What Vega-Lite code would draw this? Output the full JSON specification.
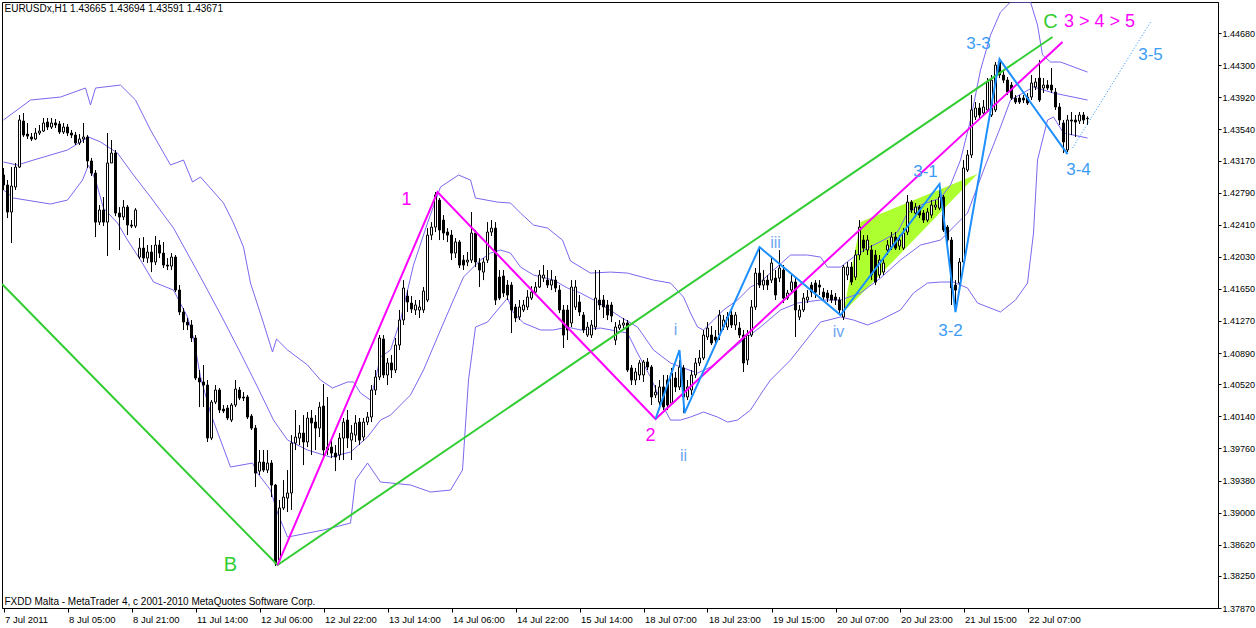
{
"$schema":"https://vega.github.io/schema/vega-lite/v6.json",
"width":1216,"height":606,
"autosize":{"type":"none"},
"padding":{"left":2,"top":2,"right":38,"bottom":20},
"background":"white",
"config":{"view":{"stroke":"black","strokeWidth":1},"font":"Liberation Sans"},
"datasets":{
"candles":[
{"i":0,"o":1.42999,"h":1.43082,"l":1.42821,"c":1.4288},
{"i":1,"o":1.4288,"h":1.42939,"l":1.42489,"c":1.4256},
{"i":2,"o":1.4256,"h":1.43093,"l":1.42193,"c":1.42868},
{"i":3,"o":1.42857,"h":1.43141,"l":1.42821,"c":1.43093},
{"i":4,"o":1.43093,"h":1.43709,"l":1.43082,"c":1.4365},
{"i":5,"o":1.43638,"h":1.43733,"l":1.43449,"c":1.43472},
{"i":6,"o":1.43484,"h":1.43615,"l":1.43425,"c":1.4346},
{"i":7,"o":1.43449,"h":1.43496,"l":1.43401,"c":1.43425},
{"i":8,"o":1.43425,"h":1.43555,"l":1.43413,"c":1.43496},
{"i":9,"o":1.43496,"h":1.43591,"l":1.43472,"c":1.4352},
{"i":10,"o":1.4352,"h":1.43674,"l":1.43508,"c":1.43615},
{"i":11,"o":1.43626,"h":1.43674,"l":1.43532,"c":1.43567},
{"i":12,"o":1.43567,"h":1.43674,"l":1.43544,"c":1.43615},
{"i":13,"o":1.43615,"h":1.43662,"l":1.43555,"c":1.43591},
{"i":14,"o":1.43603,"h":1.43638,"l":1.43484,"c":1.43508},
{"i":15,"o":1.43508,"h":1.43615,"l":1.43484,"c":1.43567},
{"i":16,"o":1.43567,"h":1.43603,"l":1.4346,"c":1.43496},
{"i":17,"o":1.43496,"h":1.43532,"l":1.43437,"c":1.43472},
{"i":18,"o":1.43472,"h":1.43508,"l":1.43354,"c":1.43378},
{"i":19,"o":1.43378,"h":1.43484,"l":1.43354,"c":1.43425},
{"i":20,"o":1.43425,"h":1.43615,"l":1.43378,"c":1.43449},
{"i":21,"o":1.43449,"h":1.43472,"l":1.43082,"c":1.43165},
{"i":22,"o":1.43165,"h":1.432,"l":1.42987,"c":1.43022},
{"i":23,"o":1.43022,"h":1.43058,"l":1.42264,"c":1.42441},
{"i":24,"o":1.42441,"h":1.42643,"l":1.42406,"c":1.42584},
{"i":25,"o":1.42584,"h":1.42738,"l":1.42394,"c":1.42441},
{"i":26,"o":1.42441,"h":1.43496,"l":1.42039,"c":1.43141},
{"i":27,"o":1.43141,"h":1.43413,"l":1.43212,"c":1.43259},
{"i":28,"o":1.43259,"h":1.43295,"l":1.42512,"c":1.42548},
{"i":29,"o":1.42548,"h":1.42619,"l":1.4211,"c":1.42501},
{"i":30,"o":1.42501,"h":1.42702,"l":1.42465,"c":1.42619},
{"i":31,"o":1.42619,"h":1.42643,"l":1.42287,"c":1.42406},
{"i":32,"o":1.42406,"h":1.42465,"l":1.4237,"c":1.42394},
{"i":33,"o":1.42394,"h":1.42607,"l":1.4237,"c":1.42584},
{"i":34,"o":1.42027,"h":1.42252,"l":1.42003,"c":1.42133},
{"i":35,"o":1.42133,"h":1.42264,"l":1.41968,"c":1.42015},
{"i":36,"o":1.42015,"h":1.42169,"l":1.41956,"c":1.42086},
{"i":37,"o":1.42086,"h":1.42169,"l":1.41849,"c":1.41968},
{"i":38,"o":1.41968,"h":1.42276,"l":1.41932,"c":1.42169},
{"i":39,"o":1.42169,"h":1.42228,"l":1.42015,"c":1.42074},
{"i":40,"o":1.42074,"h":1.42205,"l":1.41897,"c":1.41932},
{"i":41,"o":1.41932,"h":1.42015,"l":1.41873,"c":1.4192},
{"i":42,"o":1.4192,"h":1.42074,"l":1.41873,"c":1.42027},
{"i":43,"o":1.42027,"h":1.42051,"l":1.41612,"c":1.41636},
{"i":44,"o":1.41636,"h":1.41695,"l":1.4134,"c":1.41376},
{"i":45,"o":1.41376,"h":1.41423,"l":1.41163,"c":1.41257},
{"i":46,"o":1.41257,"h":1.41305,"l":1.41163,"c":1.41222},
{"i":47,"o":1.41222,"h":1.41281,"l":1.41021,"c":1.41068},
{"i":48,"o":1.41068,"h":1.41103,"l":1.4057,"c":1.40594},
{"i":49,"o":1.40594,"h":1.40689,"l":1.4025,"c":1.40547},
{"i":50,"o":1.40547,"h":1.40748,"l":1.4025,"c":1.40511},
{"i":51,"o":1.40511,"h":1.4057,"l":1.39836,"c":1.39883},
{"i":52,"o":1.39883,"h":1.40333,"l":1.39859,"c":1.40309},
{"i":53,"o":1.40309,"h":1.40511,"l":1.40286,"c":1.40452},
{"i":54,"o":1.40452,"h":1.40476,"l":1.40179,"c":1.40215},
{"i":55,"o":1.40226,"h":1.40274,"l":1.40179,"c":1.40203},
{"i":56,"o":1.40238,"h":1.40274,"l":1.40096,"c":1.4012},
{"i":57,"o":1.40096,"h":1.40297,"l":1.40072,"c":1.40274},
{"i":58,"o":1.40274,"h":1.4057,"l":1.4025,"c":1.40464},
{"i":59,"o":1.40452,"h":1.40488,"l":1.40333,"c":1.40357},
{"i":60,"o":1.40369,"h":1.40428,"l":1.40321,"c":1.40357},
{"i":61,"o":1.40369,"h":1.40393,"l":1.40108,"c":1.40132},
{"i":62,"o":1.40143,"h":1.40167,"l":1.39978,"c":1.40001},
{"i":63,"o":1.40001,"h":1.40037,"l":1.39303,"c":1.39468},
{"i":64,"o":1.39492,"h":1.39741,"l":1.39445,"c":1.39599},
{"i":65,"o":1.39599,"h":1.39741,"l":1.3948,"c":1.39504},
{"i":66,"o":1.39504,"h":1.39741,"l":1.39468,"c":1.39587},
{"i":67,"o":1.39587,"h":1.39622,"l":1.39184,"c":1.39326},
{"i":68,"o":1.39326,"h":1.39338,"l":1.38367,"c":1.38403},
{"i":69,"o":1.38438,"h":1.39149,"l":1.38415,"c":1.39054},
{"i":70,"o":1.39054,"h":1.39385,"l":1.39031,"c":1.39184},
{"i":71,"o":1.39172,"h":1.39504,"l":1.39007,"c":1.39232},
{"i":72,"o":1.39232,"h":1.39918,"l":1.39031,"c":1.39824},
{"i":73,"o":1.39824,"h":1.40215,"l":1.39741,"c":1.39895},
{"i":74,"o":1.39883,"h":1.40037,"l":1.398,"c":1.39942},
{"i":75,"o":1.39942,"h":1.40155,"l":1.39563,"c":1.39836},
{"i":76,"o":1.39836,"h":1.40191,"l":1.39776,"c":1.4012},
{"i":77,"o":1.4012,"h":1.40215,"l":1.39682,"c":1.40061},
{"i":78,"o":1.40072,"h":1.40155,"l":1.39741,"c":1.40001},
{"i":79,"o":1.40001,"h":1.40309,"l":1.39895,"c":1.4025},
{"i":80,"o":1.40262,"h":1.40523,"l":1.39646,"c":1.39741},
{"i":81,"o":1.39741,"h":1.40369,"l":1.39682,"c":1.39776},
{"i":82,"o":1.39776,"h":1.39859,"l":1.39646,"c":1.39705},
{"i":83,"o":1.39705,"h":1.398,"l":1.39492,"c":1.39658},
{"i":84,"o":1.39682,"h":1.39942,"l":1.39622,"c":1.39883},
{"i":85,"o":1.39883,"h":1.4012,"l":1.39622,"c":1.40072},
{"i":86,"o":1.40096,"h":1.40215,"l":1.39764,"c":1.39883},
{"i":87,"o":1.39859,"h":1.40037,"l":1.39622,"c":1.39942},
{"i":88,"o":1.39918,"h":1.40155,"l":1.39836,"c":1.40061},
{"i":89,"o":1.40072,"h":1.4012,"l":1.398,"c":1.39859},
{"i":90,"o":1.39895,"h":1.4012,"l":1.39847,"c":1.40072},
{"i":91,"o":1.40072,"h":1.40191,"l":1.40037,"c":1.40132},
{"i":92,"o":1.40132,"h":1.40511,"l":1.40072,"c":1.40452},
{"i":93,"o":1.40452,"h":1.40689,"l":1.40393,"c":1.40606},
{"i":94,"o":1.40606,"h":1.41103,"l":1.4057,"c":1.41068},
{"i":95,"o":1.41056,"h":1.41103,"l":1.40594,"c":1.4063},
{"i":96,"o":1.4063,"h":1.40831,"l":1.40511,"c":1.40772},
{"i":97,"o":1.40772,"h":1.40867,"l":1.40594,"c":1.40689},
{"i":98,"o":1.40689,"h":1.41068,"l":1.40653,"c":1.40985},
{"i":99,"o":1.40985,"h":1.414,"l":1.40926,"c":1.41281},
{"i":100,"o":1.41281,"h":1.41754,"l":1.41222,"c":1.4166},
{"i":101,"o":1.41565,"h":1.41636,"l":1.41376,"c":1.41494},
{"i":102,"o":1.41482,"h":1.41565,"l":1.41364,"c":1.41411},
{"i":103,"o":1.414,"h":1.41518,"l":1.4134,"c":1.41459},
{"i":104,"o":1.414,"h":1.41518,"l":1.41305,"c":1.41435},
{"i":105,"o":1.414,"h":1.41672,"l":1.41364,"c":1.41624},
{"i":106,"o":1.41518,"h":1.4237,"l":1.41494,"c":1.42287},
{"i":107,"o":1.42287,"h":1.42441,"l":1.42228,"c":1.42382},
{"i":108,"o":1.42382,"h":1.42797,"l":1.42323,"c":1.42762},
{"i":109,"o":1.42702,"h":1.42726,"l":1.42228,"c":1.42347},
{"i":110,"o":1.42465,"h":1.42524,"l":1.42228,"c":1.42311},
{"i":111,"o":1.42323,"h":1.4237,"l":1.42205,"c":1.42287},
{"i":112,"o":1.42287,"h":1.42347,"l":1.41991,"c":1.42074},
{"i":113,"o":1.42074,"h":1.42252,"l":1.42015,"c":1.42205},
{"i":114,"o":1.42205,"h":1.42228,"l":1.41897,"c":1.41932},
{"i":115,"o":1.41991,"h":1.42051,"l":1.41873,"c":1.41932},
{"i":116,"o":1.41968,"h":1.42086,"l":1.4192,"c":1.41991},
{"i":117,"o":1.41991,"h":1.4256,"l":1.41956,"c":1.42311},
{"i":118,"o":1.42311,"h":1.42347,"l":1.41908,"c":1.41968},
{"i":119,"o":1.41956,"h":1.42015,"l":1.41672,"c":1.41873},
{"i":120,"o":1.41849,"h":1.42015,"l":1.41754,"c":1.41968},
{"i":121,"o":1.41991,"h":1.42441,"l":1.41956,"c":1.42323},
{"i":122,"o":1.42323,"h":1.42465,"l":1.42276,"c":1.4237},
{"i":123,"o":1.4237,"h":1.42441,"l":1.41459,"c":1.41518},
{"i":124,"o":1.4179,"h":1.41873,"l":1.41518,"c":1.41541},
{"i":125,"o":1.41802,"h":1.41873,"l":1.41553,"c":1.41601},
{"i":126,"o":1.41695,"h":1.41754,"l":1.41518,"c":1.41577},
{"i":127,"o":1.41695,"h":1.41731,"l":1.41127,"c":1.414},
{"i":128,"o":1.41435,"h":1.41471,"l":1.41257,"c":1.41305},
{"i":129,"o":1.41317,"h":1.41518,"l":1.41281,"c":1.41435},
{"i":130,"o":1.414,"h":1.41518,"l":1.41376,"c":1.41459},
{"i":131,"o":1.41435,"h":1.41636,"l":1.414,"c":1.41553},
{"i":132,"o":1.41541,"h":1.41683,"l":1.41518,"c":1.41612},
{"i":133,"o":1.41612,"h":1.41731,"l":1.41589,"c":1.41672},
{"i":134,"o":1.41672,"h":1.41873,"l":1.4166,"c":1.41814},
{"i":135,"o":1.41778,"h":1.41932,"l":1.41731,"c":1.41814},
{"i":136,"o":1.41754,"h":1.41873,"l":1.4166,"c":1.41695},
{"i":137,"o":1.41695,"h":1.41873,"l":1.41636,"c":1.41754},
{"i":138,"o":1.41754,"h":1.41802,"l":1.41612,"c":1.4166},
{"i":139,"o":1.41636,"h":1.41695,"l":1.41364,"c":1.414},
{"i":140,"o":1.414,"h":1.41459,"l":1.40949,"c":1.41103},
{"i":141,"o":1.414,"h":1.41459,"l":1.41044,"c":1.41163},
{"i":142,"o":1.41246,"h":1.41754,"l":1.41198,"c":1.41672},
{"i":143,"o":1.41435,"h":1.41754,"l":1.414,"c":1.41672},
{"i":144,"o":1.41494,"h":1.41577,"l":1.41328,"c":1.41376},
{"i":145,"o":1.4134,"h":1.41376,"l":1.41127,"c":1.41163},
{"i":146,"o":1.41103,"h":1.41257,"l":1.4108,"c":1.41198},
{"i":147,"o":1.41103,"h":1.41281,"l":1.41068,"c":1.41222},
{"i":148,"o":1.41198,"h":1.41873,"l":1.41163,"c":1.41541},
{"i":149,"o":1.41518,"h":1.41873,"l":1.414,"c":1.41459},
{"i":150,"o":1.41518,"h":1.41577,"l":1.41305,"c":1.41435},
{"i":151,"o":1.41459,"h":1.41518,"l":1.41281,"c":1.4134},
{"i":152,"o":1.41459,"h":1.41494,"l":1.41257,"c":1.41328},
{"i":153,"o":1.41044,"h":1.41257,"l":1.40985,"c":1.41198},
{"i":154,"o":1.41186,"h":1.41281,"l":1.41163,"c":1.41222},
{"i":155,"o":1.41222,"h":1.41305,"l":1.41163,"c":1.41246},
{"i":156,"o":1.41246,"h":1.41281,"l":1.40665,"c":1.40689},
{"i":157,"o":1.40713,"h":1.40748,"l":1.40511,"c":1.4057},
{"i":158,"o":1.4057,"h":1.40713,"l":1.40511,"c":1.40665},
{"i":159,"o":1.4063,"h":1.40807,"l":1.4057,"c":1.40772},
{"i":160,"o":1.4063,"h":1.40807,"l":1.40547,"c":1.40784},
{"i":161,"o":1.40784,"h":1.40831,"l":1.40689,"c":1.40724},
{"i":162,"o":1.40724,"h":1.40748,"l":1.40274,"c":1.40369},
{"i":163,"o":1.40393,"h":1.40511,"l":1.40357,"c":1.40428},
{"i":164,"o":1.40309,"h":1.4057,"l":1.40274,"c":1.40488},
{"i":165,"o":1.40488,"h":1.4063,"l":1.40215,"c":1.4025},
{"i":166,"o":1.4057,"h":1.4063,"l":1.40215,"c":1.40274},
{"i":167,"o":1.40297,"h":1.40713,"l":1.40274,"c":1.40653},
{"i":168,"o":1.40594,"h":1.40665,"l":1.40428,"c":1.40488},
{"i":169,"o":1.40488,"h":1.40807,"l":1.40452,"c":1.40724},
{"i":170,"o":1.40713,"h":1.40748,"l":1.40179,"c":1.40369},
{"i":171,"o":1.40369,"h":1.4057,"l":1.40333,"c":1.40488},
{"i":172,"o":1.40452,"h":1.40689,"l":1.40393,"c":1.4063},
{"i":173,"o":1.4063,"h":1.40831,"l":1.40594,"c":1.40772},
{"i":174,"o":1.40772,"h":1.40926,"l":1.40736,"c":1.40831},
{"i":175,"o":1.40831,"h":1.41163,"l":1.40807,"c":1.41103},
{"i":176,"o":1.4108,"h":1.41257,"l":1.41044,"c":1.41186},
{"i":177,"o":1.41103,"h":1.4121,"l":1.40985,"c":1.41009},
{"i":178,"o":1.4108,"h":1.41163,"l":1.40985,"c":1.41044},
{"i":179,"o":1.41103,"h":1.414,"l":1.41044,"c":1.4134},
{"i":180,"o":1.41198,"h":1.4134,"l":1.41163,"c":1.41281},
{"i":181,"o":1.41198,"h":1.41376,"l":1.41163,"c":1.41317},
{"i":182,"o":1.4134,"h":1.414,"l":1.41186,"c":1.41222},
{"i":183,"o":1.41222,"h":1.41376,"l":1.41163,"c":1.4134},
{"i":184,"o":1.41186,"h":1.41257,"l":1.41068,"c":1.41103},
{"i":185,"o":1.41103,"h":1.41163,"l":1.40665,"c":1.40772},
{"i":186,"o":1.40807,"h":1.41163,"l":1.40748,"c":1.41103},
{"i":187,"o":1.41103,"h":1.41518,"l":1.4108,"c":1.41435},
{"i":188,"o":1.41435,"h":1.41897,"l":1.414,"c":1.41837},
{"i":189,"o":1.41837,"h":1.42145,"l":1.4166,"c":1.41695},
{"i":190,"o":1.41695,"h":1.41873,"l":1.41636,"c":1.41754},
{"i":191,"o":1.41754,"h":1.41814,"l":1.41636,"c":1.41695},
{"i":192,"o":1.41754,"h":1.42015,"l":1.41719,"c":1.41956},
{"i":193,"o":1.41778,"h":1.41873,"l":1.41518,"c":1.41577},
{"i":194,"o":1.41778,"h":1.4211,"l":1.41731,"c":1.41897},
{"i":195,"o":1.41873,"h":1.41932,"l":1.41482,"c":1.41541},
{"i":196,"o":1.41541,"h":1.41636,"l":1.41518,"c":1.41601},
{"i":197,"o":1.41636,"h":1.41814,"l":1.41601,"c":1.41731},
{"i":198,"o":1.41731,"h":1.41778,"l":1.4108,"c":1.414},
{"i":199,"o":1.41317,"h":1.41459,"l":1.41281,"c":1.414},
{"i":200,"o":1.414,"h":1.41601,"l":1.41376,"c":1.41541},
{"i":201,"o":1.41518,"h":1.41636,"l":1.41482,"c":1.41553},
{"i":202,"o":1.41695,"h":1.41731,"l":1.41553,"c":1.41612},
{"i":203,"o":1.41719,"h":1.41754,"l":1.41541,"c":1.41612},
{"i":204,"o":1.41695,"h":1.41754,"l":1.41577,"c":1.41672},
{"i":205,"o":1.41612,"h":1.4166,"l":1.41518,"c":1.41553},
{"i":206,"o":1.41601,"h":1.41636,"l":1.41494,"c":1.41541},
{"i":207,"o":1.41577,"h":1.41636,"l":1.41482,"c":1.41518},
{"i":208,"o":1.41553,"h":1.41601,"l":1.41459,"c":1.41518},
{"i":209,"o":1.41518,"h":1.41553,"l":1.4134,"c":1.414},
{"i":210,"o":1.41317,"h":1.41932,"l":1.41281,"c":1.41908},
{"i":211,"o":1.41814,"h":1.41968,"l":1.41754,"c":1.41908},
{"i":212,"o":1.41908,"h":1.41968,"l":1.41695,"c":1.41731},
{"i":213,"o":1.4179,"h":1.4211,"l":1.41754,"c":1.42051},
{"i":214,"o":1.42051,"h":1.42465,"l":1.41991,"c":1.42382},
{"i":215,"o":1.42228,"h":1.42287,"l":1.42086,"c":1.42133},
{"i":216,"o":1.4211,"h":1.42287,"l":1.42051,"c":1.42228},
{"i":217,"o":1.4211,"h":1.42169,"l":1.41754,"c":1.41814},
{"i":218,"o":1.42051,"h":1.4211,"l":1.41695,"c":1.41731},
{"i":219,"o":1.41814,"h":1.42051,"l":1.41778,"c":1.41991},
{"i":220,"o":1.41849,"h":1.42015,"l":1.41814,"c":1.41956},
{"i":221,"o":1.4211,"h":1.42228,"l":1.42051,"c":1.42169},
{"i":222,"o":1.42145,"h":1.42323,"l":1.4211,"c":1.42264},
{"i":223,"o":1.42264,"h":1.42323,"l":1.4211,"c":1.42133},
{"i":224,"o":1.42157,"h":1.42287,"l":1.4211,"c":1.42228},
{"i":225,"o":1.42133,"h":1.4237,"l":1.4211,"c":1.42311},
{"i":226,"o":1.42323,"h":1.42762,"l":1.42287,"c":1.42678},
{"i":227,"o":1.42678,"h":1.42702,"l":1.42548,"c":1.42584},
{"i":228,"o":1.42548,"h":1.42666,"l":1.42501,"c":1.42619},
{"i":229,"o":1.42619,"h":1.42643,"l":1.42489,"c":1.42524},
{"i":230,"o":1.42548,"h":1.42584,"l":1.4243,"c":1.42465},
{"i":231,"o":1.42465,"h":1.42607,"l":1.42441,"c":1.4256},
{"i":232,"o":1.42524,"h":1.42702,"l":1.42489,"c":1.42643},
{"i":233,"o":1.42619,"h":1.42702,"l":1.42584,"c":1.42643},
{"i":234,"o":1.42607,"h":1.42821,"l":1.42584,"c":1.42738},
{"i":235,"o":1.42738,"h":1.42762,"l":1.42323,"c":1.42347},
{"i":236,"o":1.42382,"h":1.42406,"l":1.42169,"c":1.42228},
{"i":237,"o":1.42228,"h":1.42264,"l":1.41459,"c":1.4166},
{"i":238,"o":1.41695,"h":1.41754,"l":1.41376,"c":1.41636},
{"i":239,"o":1.41719,"h":1.42015,"l":1.41636,"c":1.41968},
{"i":240,"o":1.41968,"h":1.43176,"l":1.41932,"c":1.43082},
{"i":241,"o":1.43058,"h":1.43295,"l":1.43034,"c":1.43236},
{"i":242,"o":1.43236,"h":1.43946,"l":1.432,"c":1.43769},
{"i":243,"o":1.43686,"h":1.43863,"l":1.4365,"c":1.43792},
{"i":244,"o":1.43792,"h":1.43851,"l":1.43674,"c":1.43709},
{"i":245,"o":1.43733,"h":1.43887,"l":1.43709,"c":1.43804},
{"i":246,"o":1.43769,"h":1.44147,"l":1.43745,"c":1.441},
{"i":247,"o":1.43709,"h":1.44183,"l":1.43686,"c":1.44123},
{"i":248,"o":1.43769,"h":1.44337,"l":1.43745,"c":1.44301},
{"i":249,"o":1.44337,"h":1.44384,"l":1.44147,"c":1.44183},
{"i":250,"o":1.44183,"h":1.44242,"l":1.44088,"c":1.44123},
{"i":251,"o":1.44123,"h":1.44159,"l":1.43946,"c":1.43981},
{"i":252,"o":1.44064,"h":1.441,"l":1.43887,"c":1.4391},
{"i":253,"o":1.4391,"h":1.43946,"l":1.4384,"c":1.43863},
{"i":254,"o":1.4391,"h":1.43946,"l":1.4384,"c":1.43863},
{"i":255,"o":1.4391,"h":1.43946,"l":1.43851,"c":1.43887},
{"i":256,"o":1.43922,"h":1.4397,"l":1.43828,"c":1.43851},
{"i":257,"o":1.43922,"h":1.44183,"l":1.43887,"c":1.44088},
{"i":258,"o":1.44041,"h":1.44147,"l":1.44005,"c":1.441},
{"i":259,"o":1.44147,"h":1.4436,"l":1.43863,"c":1.43887},
{"i":260,"o":1.44029,"h":1.44147,"l":1.4397,"c":1.44064},
{"i":261,"o":1.44064,"h":1.44123,"l":1.44005,"c":1.44029},
{"i":262,"o":1.44064,"h":1.44266,"l":1.4397,"c":1.44005},
{"i":263,"o":1.43981,"h":1.44029,"l":1.43769,"c":1.43804},
{"i":264,"o":1.43804,"h":1.43851,"l":1.43591,"c":1.4365},
{"i":265,"o":1.43615,"h":1.4365,"l":1.43259,"c":1.4339},
{"i":266,"o":1.43295,"h":1.43709,"l":1.43271,"c":1.4365},
{"i":267,"o":1.4365,"h":1.43745,"l":1.43472,"c":1.43638},
{"i":268,"o":1.4365,"h":1.43709,"l":1.43449,"c":1.43626},
{"i":269,"o":1.43638,"h":1.43745,"l":1.43603,"c":1.43709},
{"i":270,"o":1.43709,"h":1.43745,"l":1.43603,"c":1.4365},
{"i":271,"o":1.43665,"h":1.43694,"l":1.43591,"c":1.43671}
],
"bands":[
{"b":"u","i":0,"p":1.4365},{"b":"u","i":6.75,"p":1.43887},{"b":"u","i":14.25,"p":1.43922},{"b":"u","i":20.5,"p":1.44029},{"b":"u","i":21.75,"p":1.43828},{"b":"u","i":23,"p":1.44029},{"b":"u","i":29.25,"p":1.44064},{"b":"u","i":33,"p":1.43887},{"b":"u","i":36.75,"p":1.43532},{"b":"u","i":41.75,"p":1.43117},{"b":"u","i":45,"p":1.43176},{"b":"u","i":47.25,"p":1.42916},{"b":"u","i":49.25,"p":1.42975},{"b":"u","i":55,"p":1.42667},{"b":"u","i":57.5,"p":1.4243},{"b":"u","i":60,"p":1.42145},{"b":"u","i":61.75,"p":1.41719},{"b":"u","i":64.75,"p":1.41281},{"b":"u","i":67.25,"p":1.40902},{"b":"u","i":68.25,"p":1.41056},{"b":"u","i":71,"p":1.40926},{"b":"u","i":76,"p":1.40748},{"b":"u","i":79.25,"p":1.4057},{"b":"u","i":82.25,"p":1.40476},{"b":"u","i":86,"p":1.40547},{"b":"u","i":87.5,"p":1.40547},{"b":"u","i":89.25,"p":1.40416},{"b":"u","i":91.75,"p":1.40333},{"b":"u","i":94.25,"p":1.40843},{"b":"u","i":96.75,"p":1.40926},{"b":"u","i":99.25,"p":1.41281},{"b":"u","i":102.5,"p":1.41932},{"b":"u","i":106,"p":1.4243},{"b":"u","i":109.25,"p":1.42857},{"b":"u","i":113.75,"p":1.42999},{"b":"u","i":116.75,"p":1.42939},{"b":"u","i":118,"p":1.42726},{"b":"u","i":123.5,"p":1.42678},{"b":"u","i":126.75,"p":1.42667},{"b":"u","i":129.25,"p":1.42548},{"b":"u","i":132.5,"p":1.42406},{"b":"u","i":136,"p":1.4237},{"b":"u","i":139.75,"p":1.42228},{"b":"u","i":141.75,"p":1.4198},{"b":"u","i":146.75,"p":1.41837},{"b":"u","i":151.75,"p":1.41849},{"b":"u","i":156,"p":1.41837},{"b":"u","i":162.5,"p":1.41754},{"b":"u","i":166.75,"p":1.41719},{"b":"u","i":170,"p":1.41553},{"b":"u","i":171.75,"p":1.41364},{"b":"u","i":173.5,"p":1.41198},{"b":"u","i":175,"p":1.41163},{"b":"u","i":177.5,"p":1.41281},{"b":"u","i":180,"p":1.414},{"b":"u","i":183.5,"p":1.41518},{"b":"u","i":186.75,"p":1.41672},{"b":"u","i":189.25,"p":1.41731},{"b":"u","i":192.5,"p":1.41873},{"b":"u","i":196.75,"p":1.42051},{"b":"u","i":201,"p":1.42051},{"b":"u","i":204.25,"p":1.42027},{"b":"u","i":206,"p":1.41908},{"b":"u","i":209.25,"p":1.41908},{"b":"u","i":212.5,"p":1.42027},{"b":"u","i":216,"p":1.42133},{"b":"u","i":220,"p":1.42228},{"b":"u","i":223.5,"p":1.42323},{"b":"u","i":226,"p":1.42548},{"b":"u","i":229.25,"p":1.42643},{"b":"u","i":234.25,"p":1.42726},{"b":"u","i":236.75,"p":1.4288},{"b":"u","i":239.25,"p":1.43176},{"b":"u","i":241.75,"p":1.4365},{"b":"u","i":244.25,"p":1.44242},{"b":"u","i":246.75,"p":1.44656},{"b":"u","i":249.25,"p":1.44929},{"b":"u","i":251.75,"p":1.45047},{"b":"u","i":256.75,"p":1.45047},{"b":"u","i":258.5,"p":1.44775},{"b":"u","i":259.75,"p":1.4442},{"b":"u","i":261.75,"p":1.44337},{"b":"u","i":264.25,"p":1.44337},{"b":"u","i":271,"p":1.44218},
{"b":"m","i":0,"p":1.43153},{"b":"m","i":3.5,"p":1.43117},{"b":"m","i":7.5,"p":1.43176},{"b":"m","i":16,"p":1.43295},{"b":"m","i":21.25,"p":1.43449},{"b":"m","i":24.25,"p":1.4339},{"b":"m","i":28.5,"p":1.43259},{"b":"m","i":32.5,"p":1.42999},{"b":"m","i":36.75,"p":1.42738},{"b":"m","i":42.5,"p":1.4237},{"b":"m","i":49.25,"p":1.4179},{"b":"m","i":51,"p":1.41636},{"b":"m","i":55,"p":1.41281},{"b":"m","i":59.25,"p":1.4089},{"b":"m","i":63.5,"p":1.40488},{"b":"m","i":67.5,"p":1.40096},{"b":"m","i":71,"p":1.3986},{"b":"m","i":76,"p":1.39741},{"b":"m","i":81.75,"p":1.39658},{"b":"m","i":86.75,"p":1.39717},{"b":"m","i":91,"p":1.39895},{"b":"m","i":94.25,"p":1.40096},{"b":"m","i":96.75,"p":1.40155},{"b":"m","i":101.75,"p":1.40393},{"b":"m","i":105,"p":1.40689},{"b":"m","i":109.25,"p":1.41163},{"b":"m","i":112.25,"p":1.41494},{"b":"m","i":115,"p":1.4179},{"b":"m","i":119.25,"p":1.41992},{"b":"m","i":121.75,"p":1.42074},{"b":"m","i":124.25,"p":1.4211},{"b":"m","i":126.75,"p":1.42074},{"b":"m","i":129.25,"p":1.41908},{"b":"m","i":132.5,"p":1.41814},{"b":"m","i":137.5,"p":1.41754},{"b":"m","i":141,"p":1.4166},{"b":"m","i":144.25,"p":1.41601},{"b":"m","i":148.5,"p":1.41494},{"b":"m","i":154.25,"p":1.41317},{"b":"m","i":158.5,"p":1.41198},{"b":"m","i":162.5,"p":1.40926},{"b":"m","i":166.75,"p":1.40772},{"b":"m","i":170,"p":1.40713},{"b":"m","i":173.5,"p":1.40653},{"b":"m","i":176.75,"p":1.40724},{"b":"m","i":181,"p":1.4089},{"b":"m","i":185,"p":1.41044},{"b":"m","i":189.25,"p":1.41198},{"b":"m","i":194.25,"p":1.414},{"b":"m","i":198.5,"p":1.41482},{"b":"m","i":204.25,"p":1.41518},{"b":"m","i":209.25,"p":1.41518},{"b":"m","i":214.25,"p":1.41601},{"b":"m","i":219.25,"p":1.41778},{"b":"m","i":224.25,"p":1.41992},{"b":"m","i":229.25,"p":1.42169},{"b":"m","i":234.25,"p":1.42228},{"b":"m","i":241,"p":1.42548},{"b":"m","i":245.5,"p":1.43117},{"b":"m","i":249.25,"p":1.43567},{"b":"m","i":251.75,"p":1.43887},{"b":"m","i":257.5,"p":1.44041},{"b":"m","i":262.5,"p":1.4397},{"b":"m","i":271,"p":1.43887},
{"b":"l","i":0,"p":1.42821},{"b":"l","i":2.5,"p":1.42726},{"b":"l","i":11.75,"p":1.42655},{"b":"l","i":16,"p":1.42702},{"b":"l","i":19.75,"p":1.42939},{"b":"l","i":21.25,"p":1.43117},{"b":"l","i":23,"p":1.42939},{"b":"l","i":25,"p":1.42607},{"b":"l","i":28.5,"p":1.4243},{"b":"l","i":31,"p":1.42228},{"b":"l","i":34.25,"p":1.41992},{"b":"l","i":37.5,"p":1.41731},{"b":"l","i":42.5,"p":1.41636},{"b":"l","i":46,"p":1.41317},{"b":"l","i":47.5,"p":1.41068},{"b":"l","i":49.25,"p":1.40606},{"b":"l","i":51.75,"p":1.40179},{"b":"l","i":56.75,"p":1.3954},{"b":"l","i":62.25,"p":1.39587},{"b":"l","i":63.5,"p":1.39468},{"b":"l","i":66.75,"p":1.39267},{"b":"l","i":68.5,"p":1.38998},{"b":"l","i":71,"p":1.3871},{"b":"l","i":80,"p":1.38794},{"b":"l","i":86.75,"p":1.38876},{"b":"l","i":88,"p":1.39386},{"b":"l","i":91,"p":1.39587},{"b":"l","i":94.25,"p":1.39362},{"b":"l","i":96.75,"p":1.39351},{"b":"l","i":101.75,"p":1.39327},{"b":"l","i":106.75,"p":1.39244},{"b":"l","i":111.75,"p":1.39267},{"b":"l","i":114.75,"p":1.39504},{"b":"l","i":116.25,"p":1.4057},{"b":"l","i":118,"p":1.41198},{"b":"l","i":121,"p":1.41257},{"b":"l","i":123.5,"p":1.414},{"b":"l","i":126,"p":1.41541},{"b":"l","i":127.5,"p":1.41364},{"b":"l","i":130,"p":1.41246},{"b":"l","i":134.25,"p":1.41163},{"b":"l","i":137.5,"p":1.41163},{"b":"l","i":141,"p":1.41198},{"b":"l","i":144.25,"p":1.41163},{"b":"l","i":149.25,"p":1.41186},{"b":"l","i":156,"p":1.41127},{"b":"l","i":158.5,"p":1.4089},{"b":"l","i":161.75,"p":1.40606},{"b":"l","i":165,"p":1.4025},{"b":"l","i":166.75,"p":1.40096},{"b":"l","i":169.25,"p":1.40096},{"b":"l","i":171.75,"p":1.40132},{"b":"l","i":175,"p":1.40191},{"b":"l","i":178.5,"p":1.40132},{"b":"l","i":181,"p":1.40072},{"b":"l","i":183.5,"p":1.40096},{"b":"l","i":186.75,"p":1.40215},{"b":"l","i":190,"p":1.40452},{"b":"l","i":191.75,"p":1.4057},{"b":"l","i":196.75,"p":1.40807},{"b":"l","i":204.25,"p":1.41257},{"b":"l","i":209.25,"p":1.41317},{"b":"l","i":212.5,"p":1.41281},{"b":"l","i":216,"p":1.41222},{"b":"l","i":219.25,"p":1.41281},{"b":"l","i":224.25,"p":1.414},{"b":"l","i":227.5,"p":1.41601},{"b":"l","i":231,"p":1.41719},{"b":"l","i":234.25,"p":1.41731},{"b":"l","i":237.5,"p":1.41731},{"b":"l","i":241,"p":1.4166},{"b":"l","i":243.5,"p":1.41482},{"b":"l","i":249.25,"p":1.41376},{"b":"l","i":253,"p":1.41518},{"b":"l","i":256,"p":1.41719},{"b":"l","i":257.5,"p":1.42311},{"b":"l","i":258.5,"p":1.43176},{"b":"l","i":261,"p":1.4365},{"b":"l","i":262.5,"p":1.43686},{"b":"l","i":265,"p":1.43496},{"b":"l","i":271,"p":1.43437}
],
"tri":[{"i":210,"t":1.41376,"b":1.41376},{"i":214.25,"t":1.42441,"b":1.41577},{"i":243.5,"t":1.4301,"b":1.4301}],
"green":[{"i":-0.375,"p":1.41707},{"i":68.5,"p":1.38379},{"i":262.25,"p":1.44633}],
"mag":[{"i":68.5,"p":1.38379},{"i":108.5,"p":1.42797},{"i":163,"p":1.40108},{"i":264.75,"p":1.44574}],
"blue":[{"i":163,"p":1.40108},{"i":169,"p":1.40926},{"i":170.25,"p":1.40179},{"i":189,"p":1.42145},{"i":209.25,"p":1.4134},{"i":234,"p":1.42892},{"i":238,"p":1.41376},{"i":249,"p":1.44372},{"i":266,"p":1.43247}],
"dot":[{"i":267.25,"p":1.43318},{"i":286.75,"p":1.4481}],
"magtext":[{"t":"1","i":100.75,"p":1.42702},{"t":"2","i":161.75,"p":1.39907},{"t":"3 > 4 > 5","i":274,"p":1.4481}],
"greentext":[{"t":"B","i":56.75,"p":1.38379},{"t":"C","i":261.75,"p":1.4481}],
"bluetext":[{"t":"3-1","i":230.5,"p":1.43034},{"t":"3-2","i":236.75,"p":1.41151},{"t":"3-3","i":243.75,"p":1.4455},{"t":"3-4","i":268.75,"p":1.43058},{"t":"3-5","i":286.75,"p":1.4442}],
"romantext":[{"t":"i","i":168,"p":1.41163},{"t":"ii","i":170,"p":1.3967},{"t":"iii","i":193,"p":1.42193},{"t":"iv","i":208.75,"p":1.41139}],
"info":[{"t":"EURUSDx,H1  1.43665 1.43694 1.43591 1.43671","i":0,"p":1.44964},{"t":"FXDD Malta - MetaTrader 4, c 2001-2010 MetaQuotes Software Corp.","i":0,"p":1.37941}]
},
"encoding":{
"x":{"field":"i","type":"quantitative","scale":{"domain":[-0.375,303.625],"nice":false,"zero":false},
"axis":{"orient":"bottom","title":null,"grid":false,"values":[0,16,32,48,64,80,96,112,128,144,160,176,192,208,224,240,256],
"labelExpr":"['7 Jul 2011','8 Jul 05:00','8 Jul 21:00','11 Jul 14:00','12 Jul 06:00','12 Jul 22:00','13 Jul 14:00','14 Jul 06:00','14 Jul 22:00','15 Jul 14:00','18 Jul 07:00','18 Jul 23:00','19 Jul 15:00','20 Jul 07:00','20 Jul 23:00','21 Jul 15:00','22 Jul 07:00'][round(datum.value/16)]",
"tickSize":4,"tickColor":"black","domainColor":"black","labelColor":"black","labelFont":"Liberation Sans","labelFontSize":9.5,"labelAlign":"left","labelBaseline":"top","labelPadding":2,"labelOffset":1,"labelOverlap":false,"labelFlush":false,"labelBound":false}},
"y":{"field":"p","type":"quantitative","scale":{"domain":[1.3787,1.45048],"nice":false,"zero":false},
"axis":{"orient":"right","title":null,"grid":false,"values":[1.3787,1.3825,1.3862,1.39,1.3938,1.3976,1.4014,1.4052,1.4089,1.4127,1.4165,1.4203,1.4241,1.4279,1.4317,1.4354,1.4392,1.443,1.4468],"format":".5f",
"tickSize":3,"tickColor":"black","domainColor":"black","labelColor":"black","labelFont":"Liberation Sans","labelFontSize":9,"labelPadding":1,"labelOverlap":false,"labelFlush":false,"labelBound":false}}
},
"layer":[
{"data":{"values":[{"p":1.43671}]},"mark":{"type":"rule","color":"#C0C0C0","strokeWidth":1},"encoding":{"x":{"datum":-0.375},"x2":{"datum":303.625}}},
{"data":{"name":"tri"},"mark":{"type":"area","color":"#ADFF2F","opacity":1,"clip":true},"encoding":{"y":{"field":"t","type":"quantitative","scale":{"domain":[1.3787,1.45048],"nice":false,"zero":false}},"y2":{"field":"b"}}},
{"data":{"name":"bands"},"mark":{"type":"line","color":"#7B68EE","strokeWidth":1,"clip":true},"encoding":{"detail":{"field":"b"}}},
{"data":{"name":"candles"},"mark":{"type":"rule","color":"black","strokeWidth":1},"encoding":{"y":{"field":"l","type":"quantitative","scale":{"domain":[1.3787,1.45048],"nice":false,"zero":false}},"y2":{"field":"h"}}},
{"data":{"name":"candles"},"mark":{"type":"rect","xOffset":-1,"x2Offset":1,"stroke":"black","strokeWidth":1},"encoding":{"x2":{"field":"i"},"y":{"field":"o","type":"quantitative","scale":{"domain":[1.3787,1.45048],"nice":false,"zero":false}},"y2":{"field":"c"},"fill":{"condition":{"test":"datum.c >= datum.o","value":"white"},"value":"black"}}},
{"data":{"values":[{"p":1.42897}]},"mark":{"type":"rule","color":"#FF0000","strokeWidth":1},"encoding":{"x":{"datum":-0.375},"x2":{"datum":303.625}}},
{"data":{"name":"green"},"mark":{"type":"line","color":"#32CD32","strokeWidth":2,"clip":true}},
{"data":{"name":"mag"},"mark":{"type":"line","color":"#FF00FF","strokeWidth":2}},
{"data":{"name":"blue"},"mark":{"type":"line","color":"#1E90FF","strokeWidth":2}},
{"data":{"name":"dot"},"mark":{"type":"line","color":"#1E90FF","strokeWidth":1,"strokeDash":[1,2]}},
{"data":{"name":"magtext"},"mark":{"type":"text","color":"#FF00FF","fontSize":18,"font":"Liberation Sans","align":"center","baseline":"middle"},"encoding":{"text":{"field":"t"}}},
{"data":{"name":"greentext"},"mark":{"type":"text","color":"#32CD32","fontSize":20,"font":"Liberation Sans","align":"center","baseline":"middle"},"encoding":{"text":{"field":"t"}}},
{"data":{"name":"bluetext"},"mark":{"type":"text","color":"#3C9CF5","fontSize":17,"font":"Liberation Sans","align":"center","baseline":"middle"},"encoding":{"text":{"field":"t"}}},
{"data":{"name":"romantext"},"mark":{"type":"text","color":"#6CA6F0","fontSize":16,"font":"Liberation Sans","align":"center","baseline":"middle"},"encoding":{"text":{"field":"t"}}},
{"data":{"name":"info"},"mark":{"type":"text","color":"black","fontSize":10,"font":"Liberation Sans","align":"left","baseline":"middle","dx":1},"encoding":{"text":{"field":"t"}}},
{"data":{"values":[{"p":1.43671,"t":"1.43671"}]},"mark":{"type":"rect","color":"black","x2Offset":38,"yOffset":-6,"y2Offset":6},"encoding":{"x":{"datum":303.625},"x2":{"datum":303.625},"y2":{"field":"p"}}},
{"data":{"values":[{"p":1.42897,"t":"1.42897"}]},"mark":{"type":"rect","color":"#FF0000","x2Offset":38,"yOffset":-6,"y2Offset":6},"encoding":{"x":{"datum":303.625},"x2":{"datum":303.625},"y2":{"field":"p"}}},
{"data":{"values":[{"p":1.43671,"t":"1.43671"},{"p":1.42897,"t":"1.42897"}]},"mark":{"type":"text","color":"white","fontSize":9,"font":"Liberation Sans","align":"left","baseline":"middle","dx":3},"encoding":{"x":{"datum":303.625},"text":{"field":"t"}}}
]
}
